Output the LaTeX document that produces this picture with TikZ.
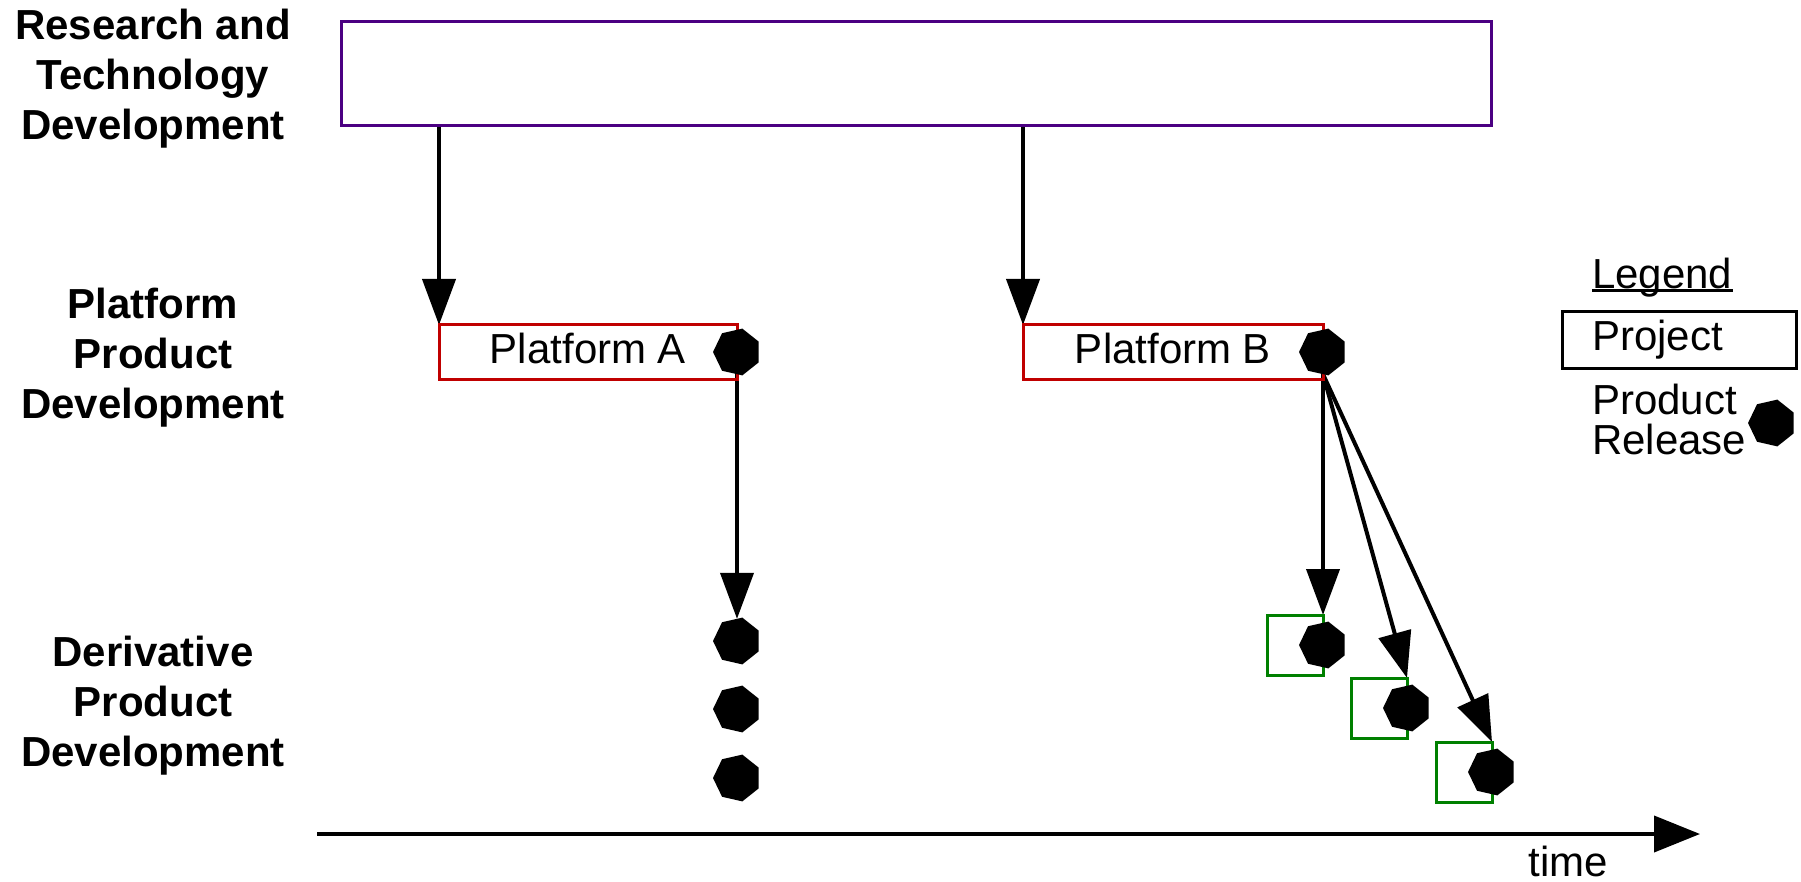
\documentclass[tikz,border=0pt]{standalone}
\usepackage{fontspec}
\setmainfont{Liberation Sans}
\usetikzlibrary{arrows.meta,shapes.geometric,backgrounds}

\definecolor{rtpurple}{RGB}{75,0,130}
\definecolor{platred}{RGB}{192,0,0}
\definecolor{derivgreen}{RGB}{0,128,0}

\tikzset{
  rowlabel/.style={font=\fontsize{42}{50}\selectfont\bfseries, align=center, inner sep=0pt, anchor=north},
  txt/.style={font=\fontsize{42}{40}\selectfont, inner sep=0pt},
  project/.style={draw=#1, line width=3pt, outer sep=0pt, inner sep=2pt, font=\fontsize{42}{48}\selectfont},
  release/.style={regular polygon, regular polygon sides=7, shape border rotate=90,
    fill=black, draw=none, inner sep=0pt, outer sep=0pt, minimum size=48pt},
  conn/.style={line width=4pt, -{Triangle[length=46pt,width=33pt]}},
}

\begin{document}
\begin{tikzpicture}[x=1pt,y=-1pt]
\useasboundingbox (0,0) rectangle (1801,882);

% row labels
\node[rowlabel] (lrt) at (153,9) {Research and\\Technology\\Development};
\node[rowlabel] (lpp) at (153,288) {Platform\\Product\\Development};
\node[rowlabel] (ldp) at (153,636) {Derivative\\Product\\Development};

% research and technology project
\node[project=rtpurple, minimum width=1150pt, minimum height=104pt] (rt) at (916,74) {};

% platform projects with their releases
\node[project=platred, minimum width=298pt, minimum height=54pt, text height=30pt, text depth=7pt] (pa) at (588,352) {Platform A};
\node[project=platred, minimum width=300pt, minimum height=54pt, text height=30pt, text depth=7pt] (pb) at (1173,352) {Platform B};
\node[release] (ra) at (pa.east) {};
\node[release] (rb) at (pb.east) {};

% derivative releases from platform A
\node[release] (a1) at (737,641) {};
\node[release] (a2) at (737,709) {};
\node[release] (a3) at (737,778) {};

% derivative projects from platform B
\node[project=derivgreen, minimum width=56pt, minimum height=60pt] (g1) at (1295,645) {};
\node[project=derivgreen, minimum width=56pt, minimum height=60pt] (g2) at (1379,708) {};
\node[project=derivgreen, minimum width=56pt, minimum height=60pt] (g3) at (1464,772) {};
\node[release] (b1) at (g1.east) {};
\node[release] (b2) at (g2.east) {};
\node[release] (b3) at (g3.east) {};

% connectors
\begin{scope}[on background layer]
  \draw[conn] (pa.north west |- rt.south) -- (pa.north west);
  \draw[conn] (pb.north west |- rt.south) -- (pb.north west);
  \draw[conn] (ra.south) -- (a1.north);
  \draw[conn] (rb.south) -- (g1.north east);
  \draw[conn] (rb.south) -- (g2.north east);
  \draw[conn] (rb.south) -- (g3.north east);
\end{scope}

% time axis
\coordinate (t0) at (317,834);
\coordinate (t1) at (1700,834);
\draw[line width=4pt, -{Triangle[length=46pt,width=36pt]}] (t0) -- (t1);
\node[txt] (tl) at (1568,861) {time};

% legend
\node[txt, anchor=base west] (leg) at (1592,289) {Legend};
\draw[line width=3pt] ([yshift=-2pt]leg.base west) -- ([yshift=-2pt]leg.base east);
\node[draw, line width=3pt, outer sep=0pt, minimum width=234pt, minimum height=56pt] (lp) at (1679,340) {};
\node[txt, anchor=west] (lpt) at ([xshift=30pt]lp.west) {Project};
\node[txt, align=left, anchor=north west] (lrl) at (1592,384) {Product\\Release};
\node[release] (lrd) at (1772,423) {};
\end{tikzpicture}
\end{document}
